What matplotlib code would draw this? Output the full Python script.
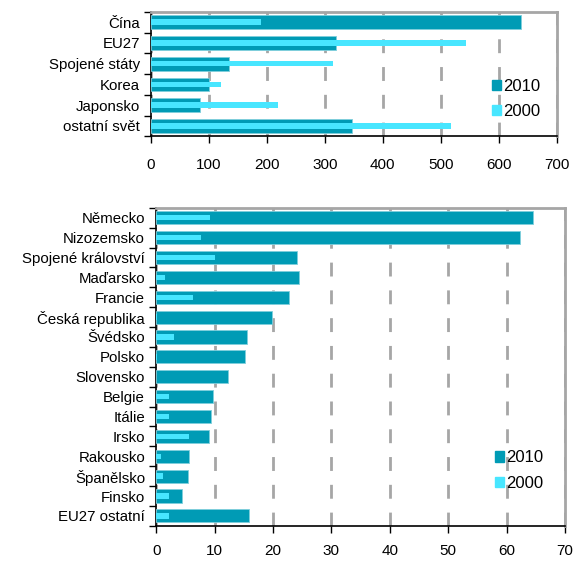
import matplotlib.pyplot as plt
import numpy as np
from matplotlib.patches import Patch
from matplotlib.ticker import MultipleLocator, FixedLocator

plt.rcParams['font.family'] = ['Liberation Sans', 'DejaVu Sans']

# World producers
world = ['Čína', 'EU27', 'Spojené státy', 'Korea', 'Japonsko', 'ostatní svět']
world_2010 = [638, 319, 134, 100, 84, 346]
world_2000 = [190, 543, 314, 120, 219, 517]

# EU countries
eu = ['Německo', 'Nizozemsko', 'Spojené království', 'Maďarsko', 'Francie',
      'Česká republika', 'Švédsko', 'Polsko', 'Slovensko', 'Belgie', 'Itálie',
      'Irsko', 'Rakousko', 'Španělsko', 'Finsko', 'EU27 ostatní']
eu_2010 = [64.5, 62.2, 24.1, 24.4, 22.7, 19.9, 15.6, 15.2, 12.3, 9.8, 9.4,
           9.0, 5.7, 5.5, 4.4, 15.9]
eu_2000 = [9.2, 7.7, 10.1, 1.5, 6.3, 0.2, 3.1, 0.2, 0.0, 2.2, 2.2,
           5.6, 0.8, 1.1, 2.2, 2.2]

dark = '#009BB5'
light = '#48E6FF'
grid_c = '#A6A6A6'

fig = plt.figure(figsize=(5.74, 5.63), dpi=100)
ax1 = fig.add_axes([0.263, 0.758, 0.707, 0.221])
ax2 = fig.add_axes([0.272, 0.066, 0.7125, 0.565])


def draw(ax, cats, v10, v00, xmax, step, legend_x, legend_y, pad):
    y = np.arange(len(cats))
    ax.barh(y, v10, height=0.66, color=dark, edgecolor='#7FCFDC', linewidth=0.6, zorder=3)
    ax.barh(y, v00, height=0.27, color=light, linewidth=0, zorder=4)
    ax.set_ylim(len(cats) - 0.5, -0.5)
    ax.set_xlim(0, xmax)
    ax.xaxis.set_major_locator(MultipleLocator(step))
    ax.set_yticks(y)
    ax.set_yticklabels(cats, fontsize=10.8)
    ax.yaxis.set_minor_locator(FixedLocator(np.arange(len(cats) + 1) - 0.5))
    ax.tick_params(axis='y', which='major', length=0, pad=8)
    ax.tick_params(axis='y', which='minor', length=5, width=1, direction='out')
    ax.tick_params(axis='x', length=5, width=1, direction='out', pad=pad, labelsize=11)
    ax.grid(axis='x', color=grid_c, linestyle=(0, (5, 5)), linewidth=2, zorder=0)
    for s in ['top', 'right']:
        ax.spines[s].set_color(grid_c)
        ax.spines[s].set_linewidth(2)
    ax.spines['left'].set_linewidth(1.2)
    ax.spines['bottom'].set_linewidth(1.2)
    handles = [Patch(color=dark, label='2010'), Patch(color=light, label='2000')]
    ax.legend(handles=handles, loc='center left', bbox_to_anchor=(legend_x, legend_y),
              frameon=False, fontsize=12, handlelength=0.55, handleheight=0.55,
              handletextpad=0.1, labelspacing=0.65, borderaxespad=0, borderpad=0)


draw(ax1, world, world_2010, world_2000, 700, 100, 0.84, 0.30, 10.5)
draw(ax2, eu, eu_2010, eu_2000, 70, 10, 0.829, 0.173, 8)

fig.savefig('out.png', dpi=100)
